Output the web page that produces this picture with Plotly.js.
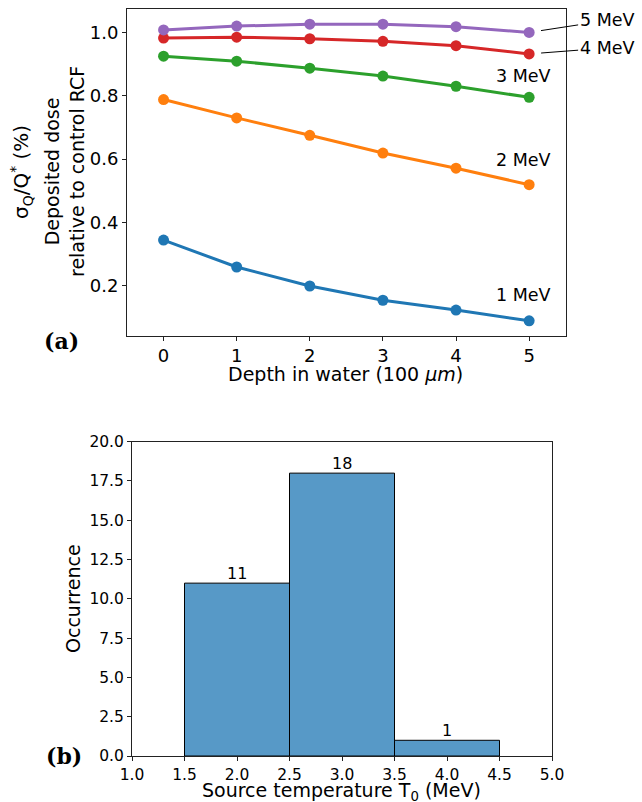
<!DOCTYPE html>
<html>
<head>
<meta charset="utf-8">
<script src="https://cdn.plot.ly/plotly-3.0.1.min.js"></script>
<style>html,body{margin:0;padding:0;background:#fff;}#plot{width:642px;height:802px;}</style>
</head>
<body>
<div id="plot"></div>
<script>
// ---- Data: panel (a) ----
const depth = [0, 1, 2, 3, 4, 5];
const energyLabels = ["1 MeV", "2 MeV", "3 MeV", "4 MeV", "5 MeV"];
const dose1MeV = [0.344, 0.259, 0.199, 0.154, 0.123, 0.089];
const dose2MeV = [0.788, 0.730, 0.675, 0.619, 0.571, 0.519];
const dose3MeV = [0.925, 0.909, 0.887, 0.862, 0.830, 0.795];
const dose4MeV = [0.982, 0.985, 0.980, 0.972, 0.958, 0.932];
const dose5MeV = [1.008, 1.020, 1.026, 1.026, 1.018, 1.000];

// ---- Data: panel (b) ----
const binCenters = [2.0, 3.0, 4.0];
const binWidth = 1.0;
const counts = [11, 18, 1];

const colors = ["#1f77b4", "#ff7f0e", "#2ca02c", "#d62728", "#9467bd"];
const series = [dose1MeV, dose2MeV, dose3MeV, dose4MeV, dose5MeV];

const traces = series.map((s, i) => ({
  type: "scatter", mode: "lines+markers",
  x: depth, y: s, xaxis: "x", yaxis: "y",
  line: {color: colors[i], width: 3},
  marker: {color: colors[i], size: 11},
  showlegend: false, hoverinfo: "skip"
}));

traces.push({
  type: "bar", x: binCenters, y: counts, width: binWidth,
  xaxis: "x2", yaxis: "y2",
  marker: {color: "#5799c7", line: {color: "#000", width: 1}},
  showlegend: false, hoverinfo: "skip"
});

const tickFontA = {family: "DejaVu Sans", size: 18, color: "#000"};
const tickFontB = {family: "DejaVu Sans", size: 15.5, color: "#000"};
const titleFont = {family: "DejaVu Sans", size: 19, color: "#000"};
const labelFont = {family: "DejaVu Sans", size: 17.5, color: "#000"};

const axCommon = {
  showgrid: false, zeroline: false, showline: true, mirror: true,
  linecolor: "#222", linewidth: 1, ticks: "outside", ticklen: 4,
  tickcolor: "#222", tickwidth: 1
};

const annotations = [];
const last = depth.length - 1;
// in-plot energy labels (1-3 MeV)
const inLabelY = [0.171, 0.597, 0.862];
for (let i = 0; i < 3; i++) {
  annotations.push({
    xref: "x", yref: "y", x: 5.33, y: inLabelY[i], text: energyLabels[i],
    showarrow: false, xanchor: "right", yanchor: "middle",
    font: labelFont
  });
}
// outside labels with leader lines (4, 5 MeV)
const outAx = [78, 78], outAy = [-6, -12];
[3, 4].forEach((i, k) => {
  annotations.push({
    xref: "x", yref: "y", x: depth[last], y: series[i][last], text: energyLabels[i],
    showarrow: true, arrowhead: 0, arrowwidth: 1, arrowcolor: "#000",
    ax: outAx[k], ay: outAy[k], standoff: 12,
    font: labelFont
  });
});
// bar count labels
binCenters.forEach((c, i) => {
  annotations.push({
    xref: "x2", yref: "y2", x: c, y: counts[i], text: String(counts[i]),
    showarrow: false, xanchor: "center", yanchor: "bottom", yshift: -2,
    font: {family: "DejaVu Sans", size: 16, color: "#000"}
  });
});

// axis titles (as paper annotations for exact placement)
function paperText(px, py, text, font, angle) {
  annotations.push({
    xref: "paper", yref: "paper", x: px / 642, y: 1 - py / 802, text: text,
    textangle: angle || 0, showarrow: false, xanchor: "center", yanchor: "middle",
    font: font
  });
}
paperText(346, 374, "Depth in water (100 <i>μm</i>)", titleFont);
paperText(65, 172, "Deposited dose<br>relative to control RCF", titleFont, -90);
paperText(22, 172, "σ<sub>Q</sub>/Q<sup>*</sup> (%)", {family: "DejaVu Sans", size: 20, color: "#000"}, -90);
paperText(342, 791, "Source temperature T<sub>0</sub> (MeV)", titleFont);
paperText(73, 599, "Occurrence", titleFont, -90);
// panel letters
paperText(61, 341, "<b>(a)</b>", {family: "DejaVu Serif", size: 22, color: "#000"});
paperText(64, 756, "<b>(b)</b>", {family: "DejaVu Serif", size: 22, color: "#000"});

const layout = {
  width: 642, height: 802,
  margin: {l: 0, r: 0, t: 0, b: 0},
  paper_bgcolor: "#fff", plot_bgcolor: "#fff",
  showlegend: false,
  xaxis: Object.assign({}, axCommon, {
    domain: [127 / 642, 565.7 / 642], anchor: "y",
    range: [-0.5, 5.5], tickmode: "linear", tick0: 0, dtick: 1,
    tickfont: tickFontA
  }),
  yaxis: Object.assign({}, axCommon, {
    domain: [1 - 335.7 / 802, 1 - 9 / 802], anchor: "x",
    range: [0.042, 1.074], tickmode: "linear", tick0: 0.2, dtick: 0.2,
    tickformat: ".1f", tickfont: tickFontA
  }),
  xaxis2: Object.assign({}, axCommon, {
    domain: [132 / 642, 552 / 642], anchor: "y2",
    range: [1, 5], tickmode: "linear", tick0: 1, dtick: 0.5,
    tickformat: ".1f", tickfont: tickFontB
  }),
  yaxis2: Object.assign({}, axCommon, {
    domain: [1 - 756 / 802, 1 - 441.7 / 802], anchor: "x2",
    range: [0, 20], tickmode: "linear", tick0: 0, dtick: 2.5,
    tickformat: ".1f", tickfont: tickFontB
  }),
  annotations: annotations
};

Plotly.newPlot("plot", traces, layout, {displayModeBar: false, staticPlot: true});
</script>
</body>
</html>
